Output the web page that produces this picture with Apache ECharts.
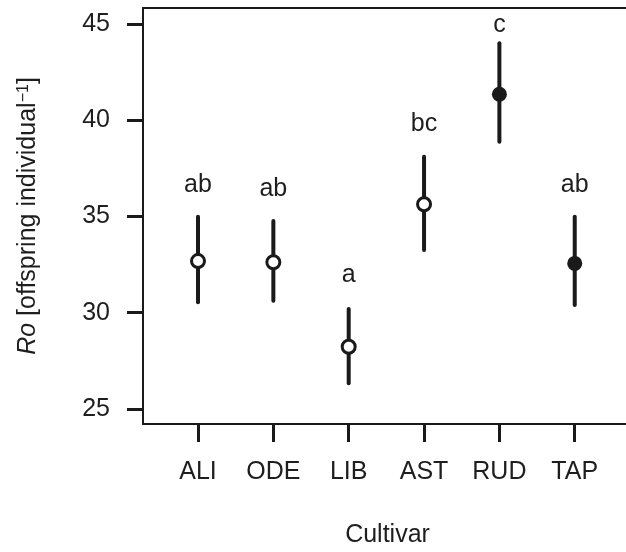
<!DOCTYPE html>
<html>
<head>
<meta charset="utf-8">
<script src="https://cdn.jsdelivr.net/npm/echarts@6/dist/echarts.min.js"></script>
<style>
  html, body { margin: 0; padding: 0; background: #fff; }
  #chart { width: 626px; height: 552px; }
</style>
</head>
<body>
<div id="chart"></div>
<script>
var cultivars = ['ALI', 'ODE', 'LIB', 'AST', 'RUD', 'TAP'];
var means = [32.68, 32.62, 28.23, 35.63, 41.34, 32.56];
var lower = [30.54, 30.62, 26.33, 33.26, 38.88, 30.40];
var upper = [34.98, 34.76, 30.19, 38.10, 43.99, 34.98];
var filled = [false, false, false, false, true, true];
var letters = ['ab', 'ab', 'a', 'bc', 'c', 'ab'];
var letterY = [36.63, 36.42, 31.96, 39.80, 44.94, 36.63];
var yTicks = [25, 30, 35, 40, 45];

var ink = '#1a1a1a';
var textInk = '#1e1e1e';
var font = 'Liberation Sans, Arial, sans-serif';
var fs = 25;

var xPos = cultivars.map(function (c, i) { return i + 1; });

var barData = xPos.map(function (x, i) { return [x, lower[i], upper[i]]; });
var pointData = xPos.map(function (x, i) {
    return {
        value: [x, means[i]],
        itemStyle: filled[i]
            ? { color: ink, borderWidth: 0, opacity: 1 }
            : { color: '#fff', borderColor: ink, borderWidth: 3, opacity: 1 },
        symbolSize: filled[i] ? 15 : 13
    };
});
var letterData = xPos.map(function (x, i) { return [x, letterY[i], letters[i]]; });

var chart = echarts.init(document.getElementById('chart'));
var option = {
    animation: false,
    grid: {
        left: 143, right: -6, top: 8, bottom: 128,
        outerBoundsMode: 'none',
        show: true, borderColor: ink, borderWidth: 2, backgroundColor: 'transparent'
    },
    xAxis: {
        type: 'value',
        min: 0.27,
        max: 6.76,
        splitLine: { show: false },
        axisLine: { show: false },
        axisTick: {
            show: true, customValues: xPos, length: 18,
            lineStyle: { color: ink, width: 3 }
        },
        axisLabel: {
            customValues: xPos,
            margin: 36,
            color: textInk,
            fontFamily: font,
            fontSize: fs,
            formatter: function (v) { return cultivars[Math.round(v) - 1] || ''; }
        },
        name: 'Cultivar',
        nameLocation: 'middle',
        nameGap: 99,
        nameTextStyle: { color: textInk, fontFamily: font, fontSize: fs }
    },
    yAxis: {
        type: 'value',
        min: 24.22,
        max: 45.82,
        splitLine: { show: false },
        axisLine: { show: false },
        axisTick: {
            show: true, customValues: yTicks, length: 16,
            lineStyle: { color: ink, width: 3 }
        },
        axisLabel: {
            customValues: yTicks,
            margin: 33,
            color: textInk,
            fontFamily: font,
            fontSize: fs
        },
        name: '{i|Ro} [offspring individual{sup|−1}]',
        nameLocation: 'middle',
        nameGap: 102,
        nameTextStyle: {
            color: textInk, fontFamily: font, fontSize: fs,
            rich: {
                i: { fontStyle: 'italic', fontSize: fs, fontFamily: font, color: textInk },
                sup: { fontSize: 16, fontFamily: font, color: textInk, verticalAlign: 'top' }
            }
        }
    },
    series: [
        {
            type: 'custom',
            data: barData,
            z: 2,
            renderItem: function (params, api) {
                var a = api.coord([api.value(0), api.value(1)]);
                var b = api.coord([api.value(0), api.value(2)]);
                return {
                    type: 'line',
                    shape: { x1: a[0], y1: a[1], x2: b[0], y2: b[1] },
                    style: { stroke: ink, lineWidth: 4, lineCap: 'round' }
                };
            }
        },
        {
            type: 'scatter',
            data: pointData,
            symbol: 'circle',
            z: 3
        },
        {
            type: 'custom',
            data: letterData,
            z: 4,
            renderItem: function (params, api) {
                var p = api.coord([api.value(0), api.value(1)]);
                return {
                    type: 'text',
                    x: p[0], y: p[1],
                    style: {
                        text: letters[params.dataIndex],
                        fill: textInk,
                        font: fs + 'px ' + font,
                        align: 'center',
                        verticalAlign: 'middle'
                    }
                };
            }
        }
    ]
};
chart.setOption(option);
window.onresize = chart.resize;
</script>
</body>
</html>
